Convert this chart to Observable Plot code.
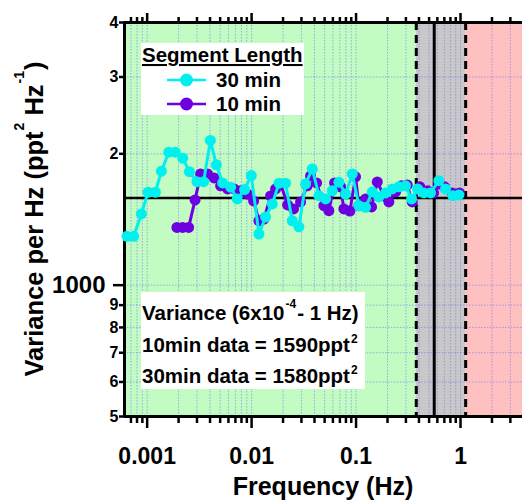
<!DOCTYPE html>
<html><head><meta charset="utf-8">
<script src="https://cdn.jsdelivr.net/npm/d3@7"></script>
<script src="https://cdn.jsdelivr.net/npm/@observablehq/plot@0.6"></script>
<style>
body{margin:0;background:#fff;}
#wrap{position:relative;width:522px;height:504px;overflow:hidden}
</style></head><body><div id="wrap"></div>
<script>
// ---- data ----
const freq30 = [0.000641, 0.000743, 0.00088, 0.00102, 0.0012, 0.00137, 0.00161, 0.00186, 0.00219, 0.00254, 0.0030, 0.00347, 0.00403, 0.0046, 0.00528, 0.0063, 0.00729, 0.00857, 0.00993, 0.01175, 0.01361, 0.01578, 0.01827, 0.02115, 0.02449, 0.02836, 0.03287, 0.0381, 0.0441, 0.0511, 0.0592, 0.0685, 0.0794, 0.092, 0.1064, 0.1233, 0.1429, 0.1652, 0.1914, 0.2219, 0.257, 0.2977, 0.3398, 0.388, 0.4457, 0.5163, 0.620, 0.718, 0.844, 0.963];
const var30 = [1294, 1294, 1456, 1633, 1633, 1825, 2018, 2018, 1955, 1820, 1727, 1727, 2146, 1887, 1715, 1677, 1576, 1656, 1783, 1310, 1433, 1535, 1713, 1713, 1405, 1361, 1706, 1847, 1604, 1576, 1647, 1722, 1618, 1799, 1521, 1508, 1636, 1593, 1627, 1662, 1680, 1689, 1576, 1662, 1627, 1627, 1736, 1662, 1604, 1610];
const freq10 = [0.001928, 0.002188, 0.002495, 0.002877, 0.00325, 0.00379, 0.00438, 0.00505, 0.00589, 0.0068, 0.00785, 0.0091, 0.01045, 0.01175, 0.01312, 0.0152, 0.01698, 0.01897, 0.0221, 0.02522, 0.02944, 0.0341, 0.0367, 0.0419, 0.0492, 0.0549, 0.0623, 0.0711, 0.0764, 0.0873, 0.0989, 0.1064, 0.1233, 0.1407, 0.1596, 0.1845, 0.206, 0.2388, 0.2723, 0.309, 0.345, 0.408, 0.483, 0.552, 0.620, 0.703, 0.833, 0.978];
const var10 = [1356, 1356, 1356, 1568, 1799, 1799, 1761, 1689, 1662, 1662, 1645, 1618, 1560, 1405, 1418, 1602, 1662, 1706, 1527, 1495, 1552, 1689, 1780, 1715, 1521, 1482, 1715, 1680, 1495, 1479, 1771, 1521, 1576, 1511, 1724, 1602, 1552, 1636, 1689, 1697, 1552, 1680, 1645, 1627, 1706, 1680, 1627, 1627];

const seriesNames = ["30 min", "10 min"];
const seriesColors = ["#00f0f0", "#6d00e0"];
const legendTitle = "Segment Length";

const xDomain = [0.000607, 3.92];
const yDomain = [500, 4000];
const regionStart = [0.000607, 0.377, 1.12];
const regionEnd = [0.377, 1.12, 3.92];
const regionColor = ["#c2fcc2", "#c8c8c8", "#ffc0c0"];
const dashedLines = [0.377, 1.12];
const solidLines = [0.56];
const meanVariance = [1585];

const xMajorTicks = [0.001, 0.01, 0.1, 1];
const xTickLabels = ["0.001", "0.01", "0.1", "1"];
const xMinorTicks = [0.0007, 0.0008, 0.0009,
  0.002, 0.003, 0.004, 0.005, 0.006, 0.007, 0.008, 0.009,
  0.02, 0.03, 0.04, 0.05, 0.06, 0.07, 0.08, 0.09,
  0.2, 0.3, 0.4, 0.5, 0.6, 0.7, 0.8, 0.9, 2, 3];
const yTicksSmall = [500, 600, 700, 800, 900, 2000, 3000, 4000];
const yTicksSmallLabels = ["5", "6", "7", "8", "9", "2", "3", "4"];
const yTicksBig = [1000];
const yTicksBigLabels = ["1000"];

const xTitle = "Frequency (Hz)";
const yTitleParts = ["Variance per Hz (ppt", "2", " Hz", "-1", ")"];
const noteLines = [
  ["Variance (6x10", "-4", "- 1 Hz)"],
  ["10min data = 1590ppt", "2", ""],
  ["30min data = 1580ppt", "2", ""]
];

// ---- build ----
const font = "'Liberation Sans', Arial, Helvetica, sans-serif";
const data30 = freq30.map((f, i) => ({f, v: var30[i]}));
const data10 = freq10.map((f, i) => ({f, v: var10[i]}));
const regions = regionStart.map((s, i) => ({x1: s, x2: regionEnd[i], fill: regionColor[i]}));
const allXTicks = [...xMajorTicks, ...xMinorTicks];
const allYTicks = [...yTicksSmall, ...yTicksBig];
const gridStyle = {stroke: "#6c6cff", strokeOpacity: 0.55, strokeWidth: 1, strokeDasharray: "1.5,1.5"};

const plot = Plot.plot({
  width: 522, height: 504,
  marginLeft: 124, marginRight: 0, marginTop: 22, marginBottom: 88,
  style: {fontFamily: font, fontWeight: "bold", background: "white", color: "black", overflow: "visible"},
  x: {type: "log", domain: xDomain},
  y: {type: "log", domain: yDomain},
  color: {type: "identity"},
  marks: [
    Plot.rect(regions, {x1: "x1", x2: "x2", fill: "fill"}),
    Plot.ruleX(allXTicks, gridStyle),
    Plot.ruleY(allYTicks, gridStyle),
    Plot.ruleY(meanVariance, {stroke: "black", strokeWidth: 2.5}),
    Plot.ruleX(dashedLines, {stroke: "black", strokeWidth: 3, strokeDasharray: "8,5"}),
    Plot.ruleX(solidLines, {stroke: "black", strokeWidth: 3}),
    // axes
    Plot.axisX(xMajorTicks, {anchor: "bottom", tickSize: 12, tickPadding: 19, fontSize: 23, strokeWidth: 2.5,
      tickFormat: d => xTickLabels[xMajorTicks.indexOf(d)], label: null}),
    Plot.axisX(xMinorTicks, {anchor: "bottom", tickSize: 7, strokeWidth: 2.5, tickFormat: () => "", label: null}),
    Plot.axisX(xMajorTicks, {anchor: "top", tickSize: 10, strokeWidth: 2.5, tickFormat: () => "", label: null}),
    Plot.axisX(xMinorTicks, {anchor: "top", tickSize: 6, strokeWidth: 2.5, tickFormat: () => "", label: null}),
    Plot.axisY(yTicksSmall, {anchor: "left", tickSize: 5, tickPadding: 1, fontSize: 16, strokeWidth: 2.5,
      tickFormat: d => yTicksSmallLabels[yTicksSmall.indexOf(d)], label: null}),
    Plot.axisY(yTicksBig, {anchor: "left", tickSize: 11, tickPadding: 8, fontSize: 24, strokeWidth: 2.5,
      tickFormat: d => yTicksBigLabels[yTicksBig.indexOf(d)], label: null}),
    Plot.ruleY([yDomain[0], yDomain[1]], {stroke: "black", strokeWidth: 3}),
    Plot.ruleX([xDomain[0]], {stroke: "black", strokeWidth: 3}),
    // data
    Plot.line(data10, {x: "f", y: "v", stroke: seriesColors[1], strokeWidth: 3}),
    Plot.dot(data10, {x: "f", y: "v", r: 5.5, fill: seriesColors[1], stroke: "none"}),
    Plot.line(data30, {x: "f", y: "v", stroke: seriesColors[0], strokeWidth: 3}),
    Plot.dot(data30, {x: "f", y: "v", r: 5.5, fill: seriesColors[0], stroke: "none"})
  ]
});
document.getElementById("wrap").appendChild(plot);

const svg = d3.select(plot);
const g = svg.append("g").attr("font-family", font).attr("font-weight", "bold")
  .attr("fill", "black").attr("text-anchor", "start");

// legend box
g.append("rect").attr("x", 141).attr("y", 43).attr("width", 163).attr("height", 72).attr("fill", "white");
g.append("text").attr("x", 142).attr("y", 62).attr("font-size", 20.5)
  .attr("text-decoration", "underline").text(legendTitle);
seriesNames.forEach((name, i) => {
  const y = 80 + i * 24;
  g.append("line").attr("x1", 167).attr("x2", 206).attr("y1", y).attr("y2", y)
    .attr("stroke", seriesColors[i]).attr("stroke-width", 2.7);
  g.append("circle").attr("cx", 186.5).attr("cy", y).attr("r", 6.5).attr("fill", seriesColors[i]);
  g.append("text").attr("x", 216).attr("y", y + 6.5).attr("font-size", 20.5).text(name);
});

// note box
g.append("rect").attr("x", 141).attr("y", 292).attr("width", 224).attr("height", 97).attr("fill", "white");
const noteBase = [320, 352, 383];
const supRaise = [12, 9, 9];
noteLines.forEach((parts, i) => {
  const t = g.append("text").attr("x", 142).attr("y", noteBase[i]).attr("font-size", 20.5);
  t.append("tspan").text(parts[0]);
  t.append("tspan").attr("font-size", 12).attr("dy", -supRaise[i]).attr("dx", 1).text(parts[1]);
  if (parts[2]) t.append("tspan").attr("dy", supRaise[i]).attr("dx", 1).text(parts[2]);
});

// axis titles
g.append("text").attr("x", 323).attr("y", 495).attr("font-size", 25)
  .attr("text-anchor", "middle").text(xTitle);
const yt = g.append("text").attr("transform", "translate(43,219) rotate(-90)")
  .attr("font-size", 25.5).attr("text-anchor", "middle");
yt.append("tspan").text(yTitleParts[0]);
yt.append("tspan").attr("font-size", 14).attr("dy", -19).attr("dx", 1).text(yTitleParts[1]);
yt.append("tspan").attr("dy", 19).text(yTitleParts[2]);
yt.append("tspan").attr("font-size", 14).attr("dy", -19).attr("dx", 1).text(yTitleParts[3]);
yt.append("tspan").attr("dy", 19).attr("dx", 1).text(yTitleParts[4]);
</script>
</body></html>
